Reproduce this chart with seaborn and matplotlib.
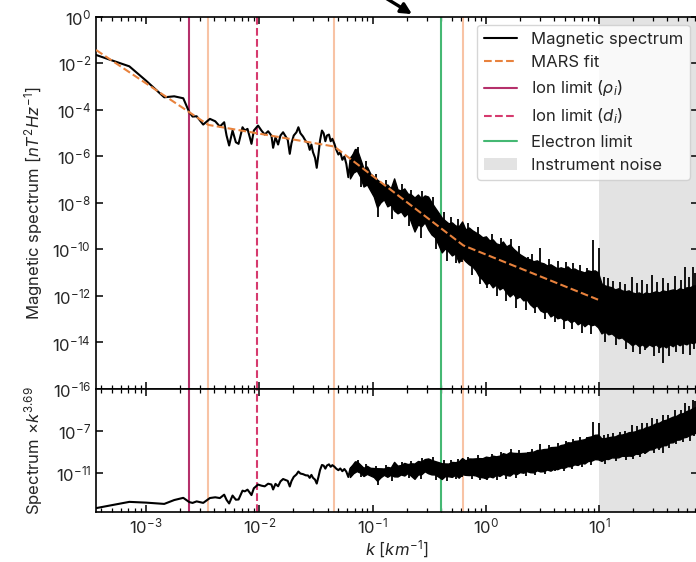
import numpy as np
import pandas as pd
import matplotlib
matplotlib.use("Agg")
import matplotlib.pyplot as plt
import seaborn as sns
from matplotlib.lines import Line2D
from matplotlib.patches import Patch

# ---------------- data (log10 values) ----------------
line_log_k = [-3.441, -3.147, -3.000, -2.839, -2.751, -2.671, -2.618, -2.589, -2.553, -2.495,
              -2.436, -2.389, -2.348, -2.310, -2.289, -2.266, -2.236, -2.207, -2.183, -2.148,
              -2.128, -2.104, -2.084, -2.069, -2.048, -2.011, -1.981, -1.952, -1.922, -1.893,
              -1.878, -1.857, -1.834, -1.813, -1.790, -1.767, -1.749, -1.731, -1.716, -1.696,
              -1.672, -1.655, -1.637, -1.614, -1.590, -1.570, -1.555, -1.540, -1.526, -1.508,
              -1.493, -1.478, -1.464, -1.447, -1.432, -1.417, -1.403, -1.385, -1.370, -1.355,
              -1.337, -1.320, -1.302, -1.285, -1.267, -1.249, -1.232, -1.214, -1.196, -1.173,
              -1.150, -1.132, -1.115, -1.097, -1.079, -1.062, -1.044]
line_log_psd = [-1.644, -2.133, -2.747, -3.464, -3.421, -3.506, -4.107, -4.292, -4.279, -4.635,
                -4.391, -4.494, -4.721, -4.536, -5.107, -5.536, -4.893, -5.395, -5.464, -4.751,
                -4.893, -4.820, -5.180, -5.464, -4.893, -4.678, -4.893, -5.064, -4.923, -5.107,
                -5.635, -5.180, -5.494, -5.107, -4.966, -5.150, -5.292, -5.893, -5.438, -5.107,
                -4.966, -4.751, -5.009, -5.150, -5.352, -5.438, -5.721, -5.494, -5.824, -6.064,
                -6.494, -5.923, -5.322, -4.893, -5.009, -5.352, -5.107, -5.064, -5.352, -5.249,
                -5.464, -5.721, -5.923, -5.824, -6.150, -6.009, -6.322, -6.897, -6.180, -5.966,
                -5.721, -5.893, -6.322, -6.751, -7.112, -6.824, -7.180]

band_log_k = [-1.20, -1.17, -1.14, -1.11, -1.08, -1.05, -1.02, -0.99, -0.96, -0.93,
              -0.90, -0.87, -0.84, -0.81, -0.78, -0.75, -0.72, -0.69, -0.66, -0.63,
              -0.60, -0.57, -0.54, -0.51, -0.48, -0.45, -0.42, -0.39, -0.36, -0.33,
              -0.30, -0.27, -0.24, -0.21, -0.18, -0.15, -0.12, -0.09, -0.06, -0.03,
              0.00, 0.03, 0.06, 0.09, 0.12, 0.15, 0.18, 0.21, 0.24, 0.27,
              0.30, 0.33, 0.36, 0.39, 0.42, 0.45, 0.48, 0.51, 0.54, 0.57,
              0.60, 0.63, 0.66, 0.69, 0.72, 0.75, 0.78, 0.81, 0.84, 0.87,
              0.90, 0.93, 0.96, 0.99, 1.02, 1.05, 1.08, 1.11, 1.14, 1.17,
              1.20, 1.23, 1.26, 1.29, 1.32, 1.35, 1.38, 1.41, 1.44, 1.47,
              1.50, 1.53, 1.56, 1.59, 1.62, 1.65, 1.68, 1.71, 1.74, 1.77,
              1.80, 1.83, 1.86, 1.89]
band_log_hi = [-6.05, -5.88, -5.67, -6.09, -6.52, -6.44, -6.74, -6.87, -7.00, -7.12,
               -7.25, -7.21, -7.38, -6.95, -7.42, -7.47, -7.38, -7.60, -7.64, -7.77,
               -7.64, -7.81, -7.68, -7.73, -7.98, -8.20, -8.41, -8.63, -8.76, -8.88,
               -8.84, -8.97, -9.01, -8.80, -9.14, -9.06, -9.18, -9.27, -9.36, -9.48,
               -9.44, -9.61, -9.57, -9.74, -9.79, -9.66, -9.87, -9.79, -9.96, -10.09,
               -10.21, -10.30, -10.39, -10.43, -10.51, -10.47, -10.56, -10.60, -10.69, -10.64,
               -10.73, -10.82, -10.77, -10.82, -10.73, -10.86, -10.82, -10.90, -10.94, -10.99,
               -10.90, -10.94, -10.90, -10.99, -11.46, -11.55, -11.59, -11.63, -11.72, -11.67,
               -11.76, -11.80, -11.76, -11.85, -11.89, -11.85, -11.93, -11.85, -11.89, -11.85,
               -11.80, -11.85, -11.76, -11.80, -11.76, -11.72, -11.76, -11.67, -11.72, -11.63,
               -11.63, -11.55, -11.55, -11.50]
band_log_lo = [-6.95, -6.70, -6.61, -6.87, -7.30, -7.21, -7.47, -7.73, -8.20, -7.98,
               -7.85, -8.15, -8.07, -8.33, -8.45, -8.37, -8.58, -8.45, -8.84, -9.23,
               -8.93, -9.01, -8.84, -9.14, -9.36, -9.48, -9.79, -10.13, -9.96, -10.09,
               -10.26, -10.17, -10.56, -10.34, -10.51, -10.64, -10.73, -10.90, -11.16, -11.29,
               -11.50, -11.42, -11.63, -11.50, -11.72, -11.63, -11.85, -12.02, -11.89, -12.10,
               -12.02, -12.19, -12.15, -12.36, -12.49, -12.40, -12.62, -12.70, -12.66, -12.88,
               -12.79, -12.96, -12.92, -13.05, -13.00, -13.13, -13.05, -13.22, -13.13, -13.30,
               -13.18, -13.26, -13.22, -13.35, -13.61, -13.52, -13.65, -13.61, -13.73, -13.82,
               -13.78, -13.91, -13.99, -14.12, -14.03, -14.16, -14.08, -14.21, -14.08, -14.16,
               -14.08, -14.21, -14.12, -14.21, -14.08, -14.16, -14.03, -14.12, -14.03, -14.08,
               -13.99, -14.03, -13.95, -13.99]

# isolated spikes poking out of the band: tip value and root value (log10)
spike_up_log_k = [-1.13, -1.06, -0.97, -0.88, -0.74, -0.66, -0.56, -0.47, -0.37, -0.31,
                  -0.25, -0.16, -0.07, 0.05, 0.13, 0.22, 0.29, 0.372, 0.41, 0.478,
                  0.56, 0.64, 0.71, 0.77, 0.83, 0.890, 0.948, 1.001, 1.04, 1.078,
                  1.12, 1.183, 1.23, 1.287, 1.33, 1.375, 1.42, 1.463, 1.51, 1.563,
                  1.61, 1.669, 1.72, 1.757, 1.79, 1.830, 1.85]
spike_up_log_tip = [-5.60, -6.20, -6.75, -7.00, -7.20, -7.45, -7.50, -7.75, -8.40, -8.60,
                    -8.70, -8.85, -9.05, -9.35, -9.50, -9.55, -9.85, -10.34, -10.20, -9.96,
                    -10.40, -10.50, -10.55, -10.60, -10.65, -10.82, -9.61, -9.96, -11.20, -11.24,
                    -11.35, -11.42, -11.50, -11.20, -11.45, -11.33, -11.50, -11.12, -11.40, -11.24,
                    -11.45, -11.16, -11.30, -10.77, -11.20, -10.77, -11.00]
spike_up_log_root = [-6.40, -7.00, -7.55, -7.80, -8.00, -8.25, -8.30, -8.55, -9.20, -9.40,
                     -9.50, -9.65, -9.85, -10.15, -10.30, -10.35, -10.65, -10.80, -11.00, -11.00,
                     -11.20, -11.30, -11.35, -11.40, -11.45, -11.60, -11.60, -11.80, -12.00, -12.20,
                     -12.20, -12.30, -12.30, -12.30, -12.30, -12.30, -12.30, -12.30, -12.30, -12.30,
                     -12.30, -12.30, -12.20, -12.20, -12.20, -12.20, -12.20]
spike_dn_log_k = [-1.10, -0.95, -0.83, -0.68, -0.57, -0.44, -0.34, -0.26, -0.211, -0.12,
                  -0.05, 0.007, 0.10, 0.18, 0.27, 0.35, 0.433, 0.52, 0.61, 0.69,
                  0.76, 0.85, 0.93, 1.05, 1.15, 1.24, 1.300, 1.36, 1.404, 1.48,
                  1.53, 1.566, 1.62, 1.678, 1.74, 1.801, 1.84]
spike_dn_log_tip = [-7.30, -8.60, -8.70, -9.00, -9.50, -10.00, -10.50, -10.60, -10.56, -11.10,
                    -11.50, -11.67, -12.00, -12.20, -12.50, -12.60, -12.75, -13.00, -13.10, -13.40,
                    -13.40, -13.60, -13.65, -14.00, -14.10, -14.30, -14.42, -14.50, -14.33, -14.60,
                    -14.45, -14.89, -14.60, -14.42, -14.50, -14.55, -14.30]
spike_dn_log_root = [-6.50, -7.80, -7.90, -8.20, -8.70, -9.20, -9.70, -9.80, -9.80, -10.30,
                     -10.70, -10.50, -11.20, -11.40, -11.70, -11.80, -11.50, -12.20, -12.30, -12.60,
                     -12.60, -12.80, -12.85, -13.00, -13.00, -13.00, -13.00, -13.00, -13.00, -13.00,
                     -13.00, -13.00, -13.00, -13.00, -13.00, -13.00, -13.00]

fit_log_k = [-3.441, -2.450, -1.338, -0.199, 0.990]
fit_log_psd = [-1.43, -4.65, -5.58, -9.83, -12.16]

rho_i_k = 2.40e-3
d_i_k = 9.48e-3
electron_k = 0.402
knot_k = [3.55e-3, 0.0459, 0.632]
noise_k_min = 10.0
comp_exponent = 3.69

x_limits = (3.62e-4, 74.5)
top_ylim = (1e-16, 1e0)
bottom_ylim = (10 ** -14.71, 10 ** -3.0)
top_yticks = [1e0, 1e-2, 1e-4, 1e-6, 1e-8, 1e-10, 1e-12, 1e-14, 1e-16]
bottom_yticks = [1e-11, 1e-7]

# ---------------- style ----------------
sns.set_theme(style="ticks")
plt.rcParams["font.family"] = ["Inter", "DejaVu Sans"]
plt.rcParams["mathtext.fontset"] = "custom"
plt.rcParams["mathtext.rm"] = "Inter"
plt.rcParams["mathtext.it"] = "Inter:italic"
plt.rcParams["mathtext.bf"] = "Inter:bold"
plt.rcParams["font.size"] = 12
plt.rcParams["axes.labelsize"] = 12
plt.rcParams["xtick.labelsize"] = 12
plt.rcParams["ytick.labelsize"] = 12
plt.rcParams["legend.fontsize"] = 12
plt.rcParams["axes.edgecolor"] = "black"
plt.rcParams["axes.linewidth"] = 1.2

C_SPEC = "black"
C_FIT = "#e8823d"
C_RHO = "#b5306b"
C_DI = "#d63a6e"
C_EL = "#45b873"
C_KNOT = "#f8c3a5"
C_NOISE = "#e3e3e3"

# ---------------- derived frames ----------------
line_k = 10 ** np.array(line_log_k)
line_psd = 10 ** np.array(line_log_psd)
band_k = 10 ** np.array(band_log_k)
band_hi = 10 ** np.array(band_log_hi)
band_lo = 10 ** np.array(band_log_lo)
sp_k = 10 ** np.array(spike_up_log_k + spike_dn_log_k)
sp_a = 10 ** np.array(spike_up_log_tip + spike_dn_log_tip)
sp_b = 10 ** np.array(spike_up_log_root + spike_dn_log_root)
fit_k = 10 ** np.array(fit_log_k)
fit_psd = 10 ** np.array(fit_log_psd)

df_line = pd.DataFrame({"k": line_k, "psd": line_psd,
                        "comp": line_psd * line_k ** comp_exponent})
df_fit = pd.DataFrame({"k": fit_k, "psd": fit_psd})

fig = plt.figure(figsize=(6.96, 5.62), dpi=100)
W, H = 696.0, 562.0
left, right = 96 / W, 698 / W
ax1 = fig.add_axes([left, 1 - 389 / H, right - left, (389 - 16.7) / H])
ax2 = fig.add_axes([left, 1 - 512 / H, right - left, (512 - 389) / H], sharex=ax1)

for ax in (ax1, ax2):
    ax.set_xscale("log")
    ax.set_yscale("log")
    ax.axvspan(noise_k_min, 1e3, color=C_NOISE, lw=0, zorder=0)
    ax.axvline(rho_i_k, color=C_RHO, lw=1.5, zorder=1)
    ax.axvline(d_i_k, color=C_DI, lw=1.5, ls="--", zorder=1)
    ax.axvline(electron_k, color=C_EL, lw=1.5, zorder=1)
    for kk in knot_k:
        ax.axvline(kk, color=C_KNOT, lw=1.5, zorder=1)

# top panel: spectrum
sns.lineplot(data=df_line, x="k", y="psd", ax=ax1, color=C_SPEC, lw=1.5,
             estimator=None, sort=False, zorder=2, legend=False)
ax1.fill_between(band_k, band_lo, band_hi, facecolor=C_SPEC, edgecolor=C_SPEC,
                 lw=1.0, zorder=2)
ax1.vlines(sp_k, sp_b, sp_a, color=C_SPEC, lw=1.3, zorder=2)
sns.lineplot(data=df_fit, x="k", y="psd", ax=ax1, color=C_FIT, lw=1.5,
             estimator=None, sort=False, zorder=3, legend=False)
ax1.lines[-1].set_linestyle("--")

# bottom panel: compensated spectrum
sns.lineplot(data=df_line, x="k", y="comp", ax=ax2, color=C_SPEC, lw=1.5,
             estimator=None, sort=False, zorder=2, legend=False)
ax2.fill_between(band_k, band_lo * band_k ** comp_exponent, band_hi * band_k ** comp_exponent,
                 facecolor=C_SPEC, edgecolor=C_SPEC, lw=1.0, zorder=2)
ax2.vlines(sp_k, sp_b * sp_k ** comp_exponent, sp_a * sp_k ** comp_exponent,
           color=C_SPEC, lw=1.3, zorder=2)

ax1.set_xlim(*x_limits)
ax1.set_ylim(*top_ylim)
ax1.set_yticks(top_yticks)
ax1.yaxis.set_minor_locator(matplotlib.ticker.NullLocator())
ax2.set_ylim(*bottom_ylim)
ax2.set_yticks(bottom_yticks)
ax2.yaxis.set_minor_locator(matplotlib.ticker.NullLocator())

for ax in (ax1, ax2):
    ax.tick_params(which="both", direction="in", top=True, right=True, color="black")
    ax.tick_params(which="major", length=5, width=1.1)
    ax.tick_params(which="minor", length=3, width=0.9)
    for s in ax.spines.values():
        s.set_visible(True)
        s.set_color("black")
plt.setp(ax1.get_xticklabels(), visible=False)

ax1.set_xlabel("")
ax1.set_ylabel(r"Magnetic spectrum [$nT^2Hz^{-1}$]")
ax2.set_ylabel(r"Spectrum $\times k^{3.69}$")
ax2.set_xlabel(r"$k$ [$km^{-1}$]", labelpad=1)
ax1.yaxis.set_label_coords(-0.085, 0.5)
ax2.yaxis.set_label_coords(-0.085, 0.5)

handles = [
    Line2D([], [], color=C_SPEC, lw=1.5),
    Line2D([], [], color=C_FIT, lw=1.5, ls="--"),
    Line2D([], [], color=C_RHO, lw=1.5),
    Line2D([], [], color=C_DI, lw=1.5, ls="--"),
    Line2D([], [], color=C_EL, lw=1.5),
    Patch(facecolor=C_NOISE, edgecolor="none"),
]
labels = ["Magnetic spectrum", "MARS fit", r"Ion limit ($\rho_i$)",
          r"Ion limit ($d_i$)", "Electron limit", "Instrument noise"]
ax1.legend(handles, labels, loc="upper right", frameon=True, framealpha=0.8)

ax1.annotate("", xy=(0.234, 1.003), xycoords=("data", "axes fraction"),
             xytext=(-36, 22), textcoords="offset points",
             arrowprops=dict(arrowstyle="-|>", color="black", lw=2.4, mutation_scale=16),
             annotation_clip=False)

fig.savefig("out.png", dpi=100)
